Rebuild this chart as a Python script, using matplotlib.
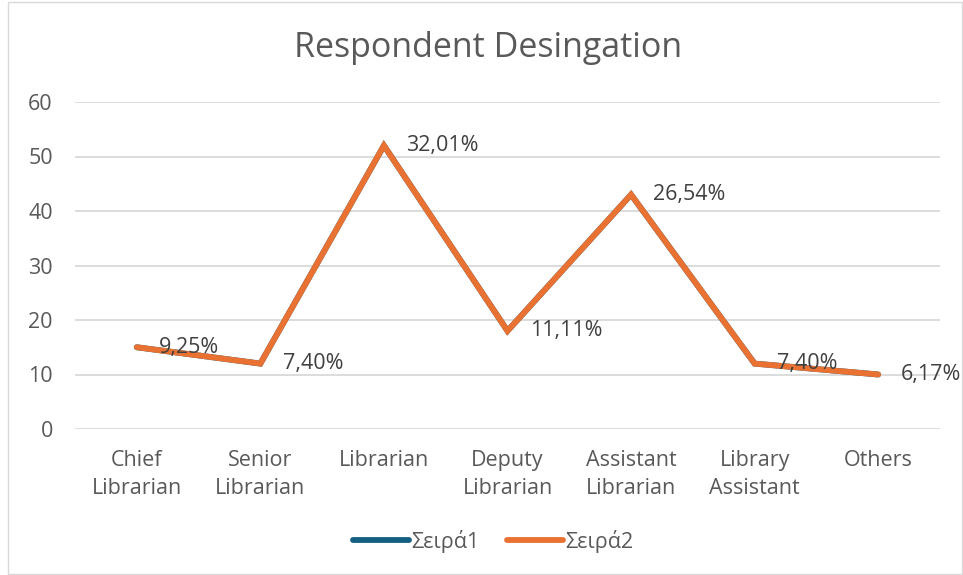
import matplotlib
matplotlib.use("Agg")
import matplotlib.pyplot as plt
from matplotlib.patches import Rectangle

categories = ["Chief\nLibrarian", "Senior\nLibrarian", "Librarian", "Deputy\nLibrarian",
              "Assistant\nLibrarian", "Library\nAssistant", "Others"]
series1 = [15, 12, 52, 18, 43, 12, 10]
series2 = [15, 12, 52, 18, 43, 12, 10]
labels = ["9,25%", "7,40%", "32,01%", "11,11%", "26,54%", "7,40%", "6,17%"]
yticks = [0, 10, 20, 30, 40, 50, 60]

plt.rcParams['font.family'] = ['Open Sans', 'DejaVu Sans']
txt = '#595959'
fs = 15.5

fig = plt.figure(figsize=(9.63, 5.75), dpi=100)
fig.patches.append(Rectangle((8/963, 0.002), 1 - 9/963, 0.995, transform=fig.transFigure,
                             fill=False, edgecolor='#D9D9D9', linewidth=1))
ax = fig.add_axes([75/963, 1 - 429/575, (940 - 75)/963, (429 - 102)/575])

x = list(range(len(categories)))
ax.plot(x, series1, color='#156082', linewidth=4.2, solid_capstyle='round',
        solid_joinstyle='miter', label='Σειρά1', zorder=3)
ax.plot(x, series2, color='#E97132', linewidth=4.2, solid_capstyle='round',
        solid_joinstyle='miter', label='Σειρά2', zorder=4)

for xi, yi, lab in zip(x, series2, labels):
    ax.annotate(lab, (xi, yi), xytext=(16, 0), textcoords='offset points',
                ha='left', va='center', fontsize=fs, color='#404040', zorder=5)

ax.set_xlim(-0.5, len(categories) - 0.5)
ax.set_ylim(0, 60)
ax.set_yticks(yticks)
ax.set_xticks(x)
ax.set_xticklabels(categories, fontsize=fs, color=txt, linespacing=1.45)
ax.tick_params(axis='y', labelsize=fs, labelcolor=txt, length=0, pad=16)
ax.tick_params(axis='x', length=0, pad=15)
ax.grid(axis='y', color='#D9D9D9', linewidth=1.3)
ax.set_axisbelow(True)
for s in ax.spines.values():
    s.set_visible(False)

fig.text(0.507, 0.917, "Respondent Desingation", ha='center', va='center',
         fontsize=24.5, color=txt)

leg = fig.legend(loc='center', bbox_to_anchor=(0.512, 0.059), ncol=2, frameon=False,
                 fontsize=fs, handlelength=2.6, handletextpad=0.1, columnspacing=1.3)
for t in leg.get_texts():
    t.set_color(txt)

fig.savefig("out.png", dpi=100)
